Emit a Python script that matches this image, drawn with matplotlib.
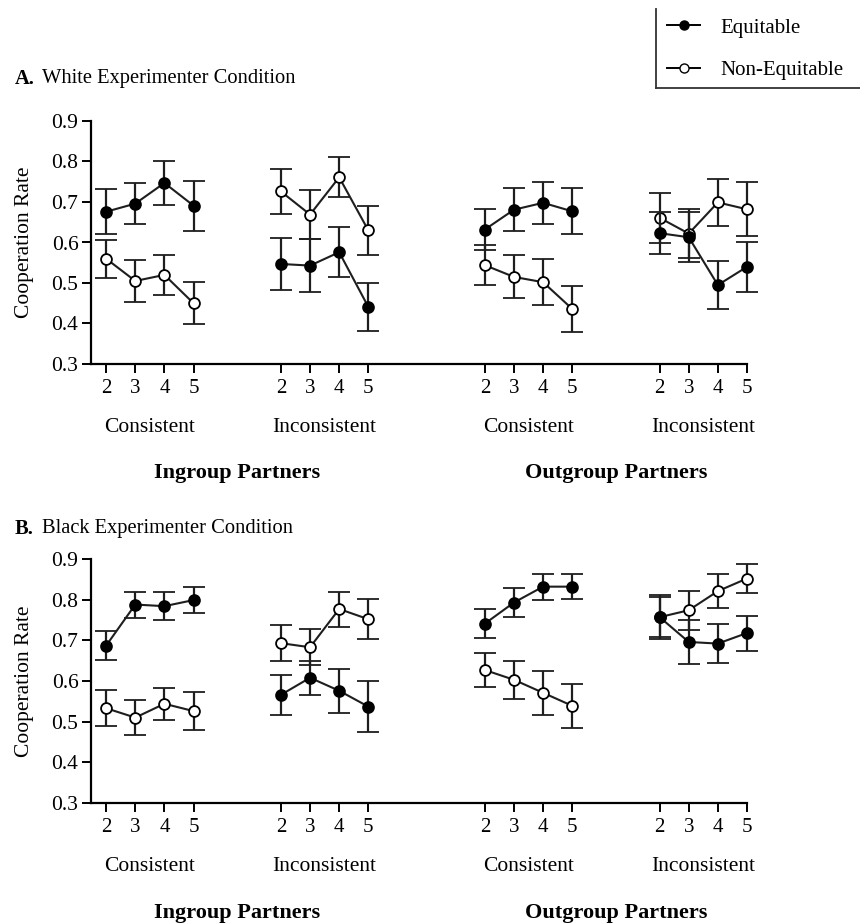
import numpy as np
import matplotlib.pyplot as plt
from matplotlib.lines import Line2D

plt.rcParams['font.family'] = ['Liberation Serif', 'DejaVu Serif']

# data: 4 groups (ingroup consistent, ingroup inconsistent,
# outgroup consistent, outgroup inconsistent) x partner count 2..5
group_sizes = [2, 3, 4, 5]
conditions = ['Consistent', 'Inconsistent', 'Consistent', 'Inconsistent']
partners = ['Ingroup Partners', 'Outgroup Partners']

white_eq = [[0.676, 0.696, 0.747, 0.691],
            [0.547, 0.543, 0.576, 0.441],
            [0.632, 0.681, 0.698, 0.677],
            [0.623, 0.613, 0.495, 0.540]]
white_eq_err = [[0.056, 0.051, 0.054, 0.062],
                [0.065, 0.066, 0.062, 0.060],
                [0.050, 0.053, 0.052, 0.057],
                [0.052, 0.062, 0.060, 0.061]]
white_neq = [[0.560, 0.505, 0.520, 0.450],
             [0.726, 0.669, 0.761, 0.630],
             [0.544, 0.515, 0.502, 0.436],
             [0.661, 0.622, 0.699, 0.682]]
white_neq_err = [[0.047, 0.052, 0.050, 0.052],
                 [0.055, 0.060, 0.049, 0.060],
                 [0.049, 0.053, 0.057, 0.057],
                 [0.062, 0.060, 0.058, 0.067]]

black_eq = [[0.687, 0.788, 0.784, 0.799],
            [0.566, 0.608, 0.576, 0.537],
            [0.741, 0.793, 0.832, 0.832],
            [0.757, 0.696, 0.692, 0.718]]
black_eq_err = [[0.036, 0.032, 0.035, 0.031],
                [0.049, 0.042, 0.054, 0.062],
                [0.036, 0.036, 0.032, 0.030],
                [0.054, 0.054, 0.048, 0.043]]
black_neq = [[0.533, 0.510, 0.544, 0.526],
             [0.693, 0.683, 0.777, 0.752],
             [0.627, 0.603, 0.571, 0.539],
             [0.757, 0.774, 0.821, 0.852]]
black_neq_err = [[0.044, 0.043, 0.040, 0.046],
                 [0.044, 0.044, 0.043, 0.049],
                 [0.042, 0.047, 0.054, 0.054],
                 [0.050, 0.048, 0.042, 0.035]]

offsets = [0, 6, 13, 19]
W, H = 860, 923


def series(ax, x, y, err, face, z):
    eb = ax.errorbar(x, y, yerr=err, color='#1e1e1e', lw=1.5,
                     elinewidth=1.6, capsize=8, capthick=1.6, marker='o',
                     ms=7.8, mfc=face, mec='black', mew=1.3, zorder=z)
    for art in eb.get_children():
        art.set_clip_on(False)


def draw_panel(ax, eq, eq_err, neq, neq_err):
    xt = []
    for g, off in enumerate(offsets):
        x = np.arange(len(group_sizes)) + off
        xt.extend(x)
        series(ax, x, neq[g], neq_err[g], 'white', 3)
        series(ax, x, eq[g], eq_err[g], 'black', 4)
    ax.set_xlim(-0.52, 22)
    ax.set_ylim(0.3, 0.9)
    yt = np.arange(3, 10) / 10
    ax.set_yticks(yt)
    ax.set_yticklabels([f'{v:.1f}' for v in yt], fontsize=15.5)
    ax.set_xticks(xt)
    ax.set_xticklabels([str(s) for s in group_sizes] * len(offsets), fontsize=15)
    ax.tick_params(direction='out', length=6.5, width=1.4, pad=4)
    ax.tick_params(axis='y', pad=2.5)
    for s in ['top', 'right']:
        ax.spines[s].set_visible(False)
    for s in ['left', 'bottom']:
        ax.spines[s].set_linewidth(1.6)
    ax.set_ylabel('Cooperation Rate', fontsize=15.5)
    ax.yaxis.set_label_coords(-0.087, 0.5)
    tr = ax.get_xaxis_transform()
    for g, off in enumerate(offsets):
        ax.text(off + 1.5, -0.26, conditions[g], transform=tr,
                ha='center', va='center', fontsize=15.5)
    for p, name in enumerate(partners):
        cx = (offsets[2 * p] + offsets[2 * p + 1] + 3) / 2
        ax.text(cx, -0.45, name, transform=tr, ha='center', va='center',
                fontsize=16, fontweight='bold')


fig = plt.figure(figsize=(W / 100, H / 100), dpi=100)
ax1 = fig.add_axes([91 / W, 1 - 364 / H, 656 / W, 243 / H])
ax2 = fig.add_axes([91 / W, 1 - 803 / H, 656 / W, 244 / H])
draw_panel(ax1, white_eq, white_eq_err, white_neq, white_neq_err)
draw_panel(ax2, black_eq, black_eq_err, black_neq, black_neq_err)

# panel titles
fig.text(15 / W, 1 - 79 / H, 'A.', fontweight='bold', fontsize=14.8, va='center')
fig.text(42 / W, 1 - 79 / H, 'White Experimenter Condition', fontsize=14.8, va='center')
fig.text(15 / W, 1 - 529 / H, 'B.', fontweight='bold', fontsize=14.8, va='center')
fig.text(42 / W, 1 - 529 / H, 'Black Experimenter Condition', fontsize=14.8, va='center')

# legend with left/bottom border only
handles = [Line2D([], [], color='black', lw=1.4, marker='o', ms=6.5, mfc='black', mec='black'),
           Line2D([], [], color='black', lw=1.4, marker='o', ms=6.5, mfc='white', mec='black')]
fig.legend(handles, ['Equitable', 'Non-Equitable'], loc='upper left',
           bbox_to_anchor=(667 / W, 1 - 18 / H), frameon=False, fontsize=15,
           borderpad=0, borderaxespad=0, handlelength=1.6,
           labelspacing=1.1, handletextpad=0.95)
fig.add_artist(Line2D([656 / W, 656 / W], [1 - 9 / H, 1 - 88 / H], color='#333333', lw=1.3,
                      transform=fig.transFigure))
fig.add_artist(Line2D([656 / W, 1.0], [1 - 88 / H, 1 - 88 / H], color='#333333', lw=1.3,
                      transform=fig.transFigure))

fig.savefig('out.png', dpi=100)
